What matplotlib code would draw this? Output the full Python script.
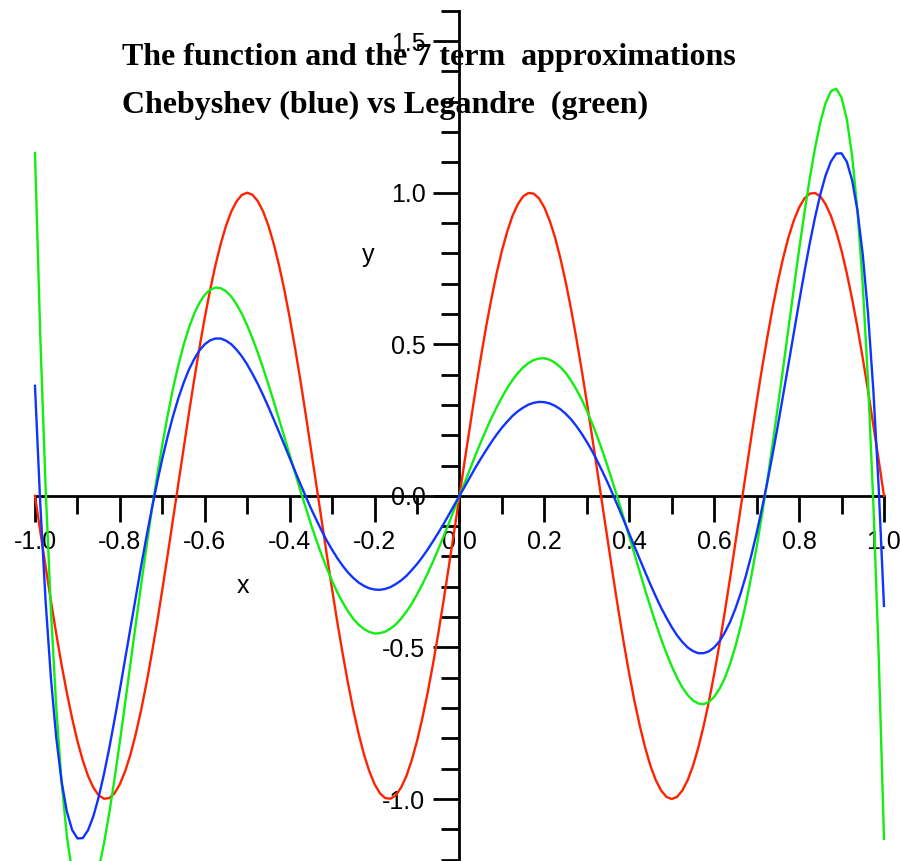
import matplotlib
matplotlib.use("Agg")
import matplotlib.pyplot as plt

# sample points along x (every 0.0125)
xs_left = [-1.0, -0.9875, -0.975, -0.9625, -0.95, -0.9375, -0.925, -0.9125, -0.9, -0.8875,
           -0.875, -0.8625, -0.85, -0.8375, -0.825, -0.8125, -0.8, -0.7875, -0.775, -0.7625,
           -0.75, -0.7375, -0.725, -0.7125, -0.7, -0.6875, -0.675, -0.6625, -0.65, -0.6375,
           -0.625, -0.6125, -0.6, -0.5875, -0.575, -0.5625, -0.55, -0.5375, -0.525, -0.5125,
           -0.5, -0.4875, -0.475, -0.4625, -0.45, -0.4375, -0.425, -0.4125, -0.4, -0.3875,
           -0.375, -0.3625, -0.35, -0.3375, -0.325, -0.3125, -0.3, -0.2875, -0.275, -0.2625,
           -0.25, -0.2375, -0.225, -0.2125, -0.2, -0.1875, -0.175, -0.1625, -0.15, -0.1375,
           -0.125, -0.1125, -0.1, -0.0875, -0.075, -0.0625, -0.05, -0.0375, -0.025, -0.0125]
xs_right = [0.0, 0.0125, 0.025, 0.0375, 0.05, 0.0625, 0.075, 0.0875, 0.1, 0.1125,
            0.125, 0.1375, 0.15, 0.1625, 0.175, 0.1875, 0.2, 0.2125, 0.225, 0.2375,
            0.25, 0.2625, 0.275, 0.2875, 0.3, 0.3125, 0.325, 0.3375, 0.35, 0.3625,
            0.375, 0.3875, 0.4, 0.4125, 0.425, 0.4375, 0.45, 0.4625, 0.475, 0.4875,
            0.5, 0.5125, 0.525, 0.5375, 0.55, 0.5625, 0.575, 0.5875, 0.6, 0.6125,
            0.625, 0.6375, 0.65, 0.6625, 0.675, 0.6875, 0.7, 0.7125, 0.725, 0.7375,
            0.75, 0.7625, 0.775, 0.7875, 0.8, 0.8125, 0.825, 0.8375, 0.85, 0.8625,
            0.875, 0.8875, 0.9, 0.9125, 0.925, 0.9375, 0.95, 0.9625, 0.975, 0.9875, 1.0]

# the function (red)
funcion_left = [0.0, -0.118, -0.233, -0.346, -0.454, -0.556, -0.649, -0.734, -0.809, -0.872,
                -0.924, -0.962, -0.988, -0.999, -0.997, -0.981, -0.951, -0.908, -0.853, -0.785,
                -0.707, -0.619, -0.522, -0.419, -0.309, -0.195, -0.078, 0.039, 0.156, 0.271,
                0.383, 0.489, 0.588, 0.679, 0.760, 0.831, 0.891, 0.938, 0.972, 0.993,
                1.0, 0.993, 0.972, 0.938, 0.891, 0.831, 0.760, 0.679, 0.588, 0.489,
                0.383, 0.271, 0.156, 0.039, -0.078, -0.195, -0.309, -0.419, -0.522, -0.619,
                -0.707, -0.785, -0.853, -0.908, -0.951, -0.981, -0.997, -0.999, -0.988, -0.962,
                -0.924, -0.872, -0.809, -0.734, -0.649, -0.556, -0.454, -0.346, -0.233, -0.118]
funcion_right = [0.0, 0.118, 0.233, 0.346, 0.454, 0.556, 0.649, 0.734, 0.809, 0.872,
                 0.924, 0.962, 0.988, 0.999, 0.997, 0.981, 0.951, 0.908, 0.853, 0.785,
                 0.707, 0.619, 0.522, 0.419, 0.309, 0.195, 0.078, -0.039, -0.156, -0.271,
                 -0.383, -0.489, -0.588, -0.679, -0.760, -0.831, -0.891, -0.938, -0.972, -0.993,
                 -1.0, -0.993, -0.972, -0.938, -0.891, -0.831, -0.760, -0.679, -0.588, -0.489,
                 -0.383, -0.271, -0.156, -0.039, 0.078, 0.195, 0.309, 0.419, 0.522, 0.619,
                 0.707, 0.785, 0.853, 0.908, 0.951, 0.981, 0.997, 0.999, 0.988, 0.962,
                 0.924, 0.872, 0.809, 0.734, 0.649, 0.556, 0.454, 0.346, 0.233, 0.118, 0.0]

# Chebyshev approximation (blue)
cheb_left = [0.363, -0.028, -0.347, -0.600, -0.796, -0.941, -1.041, -1.102, -1.130, -1.129,
             -1.103, -1.057, -0.994, -0.918, -0.832, -0.738, -0.639, -0.537, -0.434, -0.332,
             -0.232, -0.136, -0.044, 0.042, 0.123, 0.196, 0.262, 0.321, 0.372, 0.416,
             0.451, 0.480, 0.500, 0.513, 0.519, 0.519, 0.512, 0.500, 0.482, 0.460,
             0.433, 0.402, 0.369, 0.332, 0.293, 0.252, 0.210, 0.168, 0.125, 0.082,
             0.040, -0.001, -0.041, -0.078, -0.114, -0.148, -0.178, -0.206, -0.231, -0.253,
             -0.271, -0.286, -0.297, -0.305, -0.309, -0.310, -0.307, -0.301, -0.291, -0.279,
             -0.264, -0.245, -0.225, -0.202, -0.177, -0.150, -0.122, -0.093, -0.062, -0.031]
cheb_right = [0.0, 0.031, 0.062, 0.093, 0.122, 0.150, 0.177, 0.202, 0.225, 0.245,
              0.264, 0.279, 0.291, 0.301, 0.307, 0.310, 0.309, 0.305, 0.297, 0.286,
              0.271, 0.253, 0.231, 0.206, 0.178, 0.148, 0.114, 0.078, 0.041, 0.001,
              -0.040, -0.082, -0.125, -0.168, -0.210, -0.252, -0.293, -0.332, -0.369, -0.402,
              -0.433, -0.460, -0.482, -0.500, -0.512, -0.519, -0.519, -0.513, -0.500, -0.480,
              -0.451, -0.416, -0.372, -0.321, -0.262, -0.196, -0.123, -0.042, 0.044, 0.136,
              0.232, 0.332, 0.434, 0.537, 0.639, 0.738, 0.832, 0.918, 0.994, 1.057,
              1.103, 1.129, 1.130, 1.102, 1.041, 0.941, 0.796, 0.600, 0.347, 0.028, -0.363]

# Legendre approximation (green)
leg_left = [1.131, 0.526, 0.028, -0.376, -0.696, -0.941, -1.121, -1.242, -1.314, -1.343,
            -1.335, -1.296, -1.232, -1.147, -1.046, -0.933, -0.811, -0.683, -0.553, -0.422,
            -0.294, -0.169, -0.049, 0.064, 0.169, 0.265, 0.353, 0.430, 0.497, 0.554,
            0.601, 0.637, 0.663, 0.680, 0.687, 0.685, 0.675, 0.657, 0.632, 0.600,
            0.562, 0.519, 0.472, 0.421, 0.367, 0.311, 0.253, 0.194, 0.135, 0.076,
            0.018, -0.038, -0.093, -0.145, -0.194, -0.239, -0.281, -0.319, -0.352, -0.381,
            -0.406, -0.425, -0.439, -0.449, -0.454, -0.453, -0.448, -0.438, -0.424, -0.405,
            -0.382, -0.356, -0.325, -0.292, -0.256, -0.217, -0.176, -0.134, -0.090, -0.045]
leg_right = [0.0, 0.045, 0.090, 0.134, 0.176, 0.217, 0.256, 0.292, 0.325, 0.356,
             0.382, 0.405, 0.424, 0.438, 0.448, 0.453, 0.454, 0.449, 0.439, 0.425,
             0.406, 0.381, 0.352, 0.319, 0.281, 0.239, 0.194, 0.145, 0.093, 0.038,
             -0.018, -0.076, -0.135, -0.194, -0.253, -0.311, -0.367, -0.421, -0.472, -0.519,
             -0.562, -0.600, -0.632, -0.657, -0.675, -0.685, -0.687, -0.680, -0.663, -0.637,
             -0.601, -0.554, -0.497, -0.430, -0.353, -0.265, -0.169, -0.064, 0.049, 0.169,
             0.294, 0.422, 0.553, 0.683, 0.811, 0.933, 1.046, 1.147, 1.232, 1.296,
             1.335, 1.343, 1.314, 1.242, 1.121, 0.941, 0.696, 0.376, -0.028, -0.526, -1.131]

x_major = [-1.0, -0.8, -0.6, -0.4, -0.2, 0.0, 0.2, 0.4, 0.6, 0.8, 1.0]
x_minor = [-0.9, -0.7, -0.5, -0.3, -0.1, 0.1, 0.3, 0.5, 0.7, 0.9]
x_labels = ['-1.0', '-0.8', '-0.6', '-0.4', '-0.2', '0.0', '0.2', '0.4', '0.6', '0.8', '1.0']
y_major = [-1.0, -0.5, 0.0, 0.5, 1.0, 1.5]
y_minor = [-1.2, -1.1, -0.9, -0.8, -0.7, -0.6, -0.4, -0.3, -0.2, -0.1,
           0.1, 0.2, 0.3, 0.4, 0.6, 0.7, 0.8, 0.9, 1.1, 1.2, 1.3, 1.4, 1.6]
y_labels = ['-1.0', '-0.5', '0.0', '0.5', '1.0', '1.5']

xs = xs_left + xs_right
funcion = funcion_left + funcion_right
chebyshev = cheb_left + cheb_right
legendre = leg_left + leg_right

fig = plt.figure(figsize=(9.01, 8.61), dpi=100)
ax = fig.add_axes([0, 0, 1, 1])

ax.plot(xs, funcion, color='#ff2200', lw=1.7, zorder=3)
ax.plot(xs, legendre, color='#11ee11', lw=1.7, zorder=3)
ax.plot(xs, chebyshev, color='#1133ff', lw=1.7, zorder=3)

ax.set_xlim(-1.0824, 1.0401)
ax.set_ylim(-1.2045, 1.6357)

# Maple style axes crossing at the origin
for s in ['top', 'right']:
    ax.spines[s].set_visible(False)
ax.spines['left'].set_position(('data', 0))
ax.spines['bottom'].set_position(('data', 0))
ax.spines['left'].set_bounds(-1.2045, 1.6)
ax.spines['bottom'].set_bounds(-1.0, 1.0)
ax.spines['left'].set_linewidth(2.0)
ax.spines['bottom'].set_linewidth(2.0)

ax.set_xticks(x_major, x_labels)
ax.set_xticks(x_minor, minor=True)
ax.set_yticks(y_major, y_labels)
ax.set_yticks(y_minor, minor=True)
ax.tick_params(which='major', direction='out', length=18.5, width=2, labelsize=18,
               pad=6)
ax.tick_params(which='minor', direction='out', length=13, width=2)
for lab in ax.get_xticklabels() + ax.get_yticklabels():
    lab.set_family('Liberation Sans')

ax.text(-0.509, -0.296, 'x', fontsize=18, family='Liberation Sans',
        ha='center', va='center')
ax.text(-0.216, 0.794, 'y', fontsize=18, family='Liberation Sans',
        ha='center', va='center')

ax.text(-0.795, 1.421, 'The function and the 7 term  approximations',
        fontsize=23, fontweight='bold', family='Liberation Serif', zorder=1)
ax.text(-0.795, 1.263, 'Chebyshev (blue) vs Legandre  (green)',
        fontsize=23, fontweight='bold', family='Liberation Serif', zorder=1)

fig.savefig('out.png', dpi=100)
